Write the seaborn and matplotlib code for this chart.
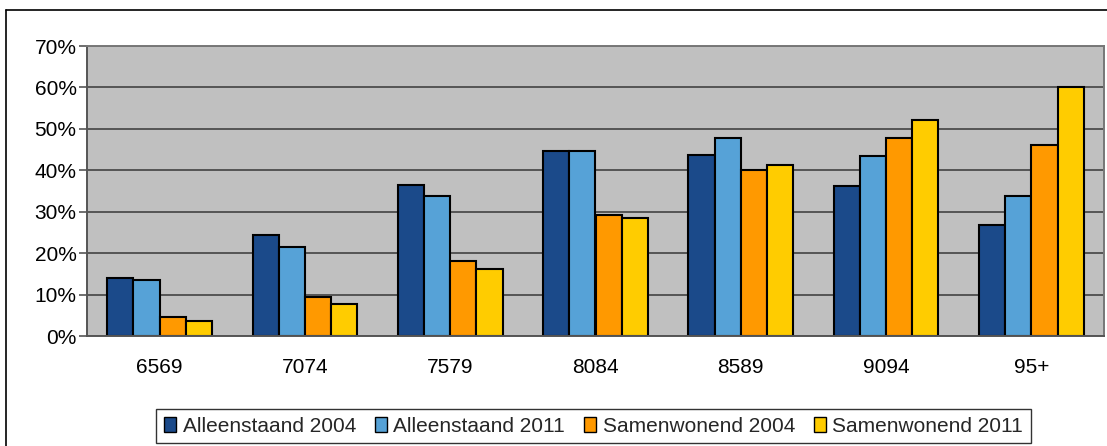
import matplotlib
matplotlib.use("Agg")
import matplotlib.pyplot as plt
from matplotlib.lines import Line2D
import seaborn as sns
import pandas as pd

categories = ["6569", "7074", "7579", "8084", "8589", "9094", "95+"]
alleenstaand_2004 = [14.0, 24.3, 36.4, 44.6, 43.8, 36.3, 26.8]
alleenstaand_2011 = [13.6, 21.4, 33.9, 44.6, 47.9, 43.4, 33.9]
samenwonend_2004 = [4.5, 9.4, 18.2, 29.2, 40.0, 47.9, 46.2]
samenwonend_2011 = [3.6, 7.7, 16.1, 28.5, 41.3, 52.1, 60.0]
series_names = ["Alleenstaand 2004", "Alleenstaand 2011", "Samenwonend 2004", "Samenwonend 2011"]
colors = ["#1B4A8A", "#56A2D7", "#FF9900", "#FFCC00"]
ytick_values = [0, 10, 20, 30, 40, 50, 60, 70]

series = [alleenstaand_2004, alleenstaand_2011, samenwonend_2004, samenwonend_2011]
rows = []
for name, vals in zip(series_names, series):
    for c, v in zip(categories, vals):
        rows.append({"cat": c, "serie": name, "val": v})
df = pd.DataFrame(rows)

sns.set_theme(style="white")
plt.rcParams["font.family"] = ["Liberation Sans", "DejaVu Sans"]

W, H = 1107, 446
FS = 15
fig = plt.figure(figsize=(W / 100, H / 100), dpi=100)
ax = fig.add_axes([87 / W, (H - 336) / H, (1104 - 87) / W, (336 - 46) / H])
ax.set_facecolor("#C0C0C0")

sns.barplot(data=df, x="cat", y="val", hue="serie", order=categories,
            hue_order=series_names, palette=colors, width=0.72,
            edgecolor="black", linewidth=1.5, ax=ax, legend=True, saturation=1)

ax.set_ylim(0, 70)
ax.set_xlim(-0.5, len(categories) - 0.5)
ax.set_yticks(ytick_values)
ax.set_yticklabels([f"{v}%" for v in ytick_values], fontsize=FS, color="black")
ax.yaxis.grid(True, color="#555555", linewidth=1.4)
ax.set_axisbelow(True)
ax.set_xlabel("")
ax.set_ylabel("")
ax.tick_params(axis="x", which="major", length=0, pad=16, labelsize=FS, labelcolor="black")
ax.set_xticks([i - 0.5 for i in range(len(categories) + 1)], minor=True)
ax.tick_params(axis="x", which="minor", length=5, width=1.2, color="#555555", direction="out")
ax.tick_params(axis="y", which="major", length=5.5, width=1.2, color="#555555", direction="out", left=True, pad=2)

for s in ["left", "bottom", "top", "right"]:
    ax.spines[s].set_color("#777777")
    ax.spines[s].set_linewidth(1.4)
ax.spines["left"].set_color("#555555")
ax.spines["bottom"].set_color("#555555")

handles, labels = ax.get_legend_handles_labels()
ax.get_legend().remove()
leg = fig.legend(handles, labels, loc="center", bbox_to_anchor=(593.5 / W, 1 - 426 / H),
                 ncol=4, fontsize=FS, frameon=True, fancybox=False,
                 handlelength=0.6, handleheight=0.75, handletextpad=0.3,
                 columnspacing=0.9, borderpad=0.38, borderaxespad=0)
leg.get_frame().set_edgecolor("black")
leg.get_frame().set_linewidth(1.0)
for h in leg.legend_handles:
    h.set_edgecolor("black")
    h.set_linewidth(1.0)

# outer chart frame (top and left edges visible)
fig.add_artist(Line2D([6 / W, 6 / W], [0, 1 - 10 / H], transform=fig.transFigure, color="black", linewidth=1.2))
fig.add_artist(Line2D([6 / W, 1], [1 - 10 / H, 1 - 10 / H], transform=fig.transFigure, color="black", linewidth=1.2))

fig.savefig("out.png", dpi=100)
